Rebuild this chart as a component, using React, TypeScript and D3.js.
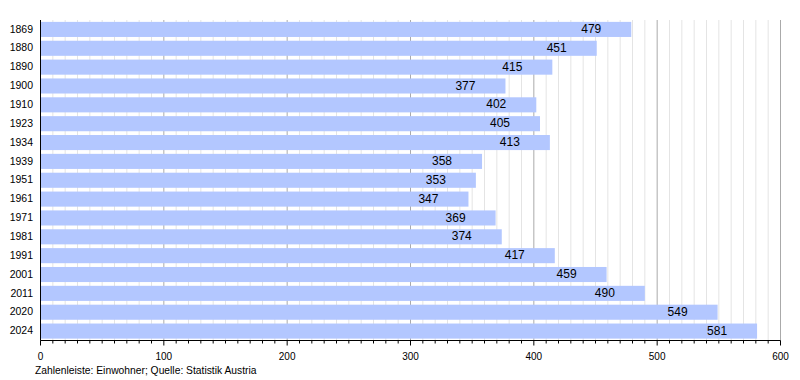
import React from "react";
import * as d3 from "d3";

const years = ["1869","1880","1890","1900","1910","1923","1934","1939","1951","1961","1971","1981","1991","2001","2011","2020","2024"];
const population = [479,451,415,377,402,405,413,358,353,347,369,374,417,459,490,549,581];
const xTicks = [0,100,200,300,400,500,600];
const caption = "Zahlenleiste: Einwohner; Quelle: Statistik Austria";

export default function App() {
  const W = 800, H = 380;
  const left = 40.5, right = 780.5, top = 20, bottom = 340.5;
  const x = d3.scaleLinear().domain([0, 600]).range([left, right]);
  const y = d3.scaleBand().domain(years).range([top, bottom]).paddingInner(0.2).paddingOuter(0.1);
  const minor = d3.range(0, 601, 10);
  const font = "'Liberation Sans', Arial, sans-serif";
  return (
    <svg width={W} height={H} style={{ position: "absolute", left: 0, top: 0, background: "#fff" }} fontFamily={font}>
      {minor.map(v => (
        <line key={"g" + v} x1={x(v)} x2={x(v)} y1={top} y2={bottom}
          stroke={v % 100 === 0 ? "#aaaaaa" : "#e4e4e4"} strokeWidth={1} />
      ))}
      {years.map((yr, i) => (
        <g key={yr}>
          <rect x={x(0)} y={y(yr)!} width={x(population[i]) - x(0)} height={y.bandwidth()} fill="#b3c7ff" />
          <text x={33} y={y(yr)! + y.bandwidth() / 2} dy="0.3em" textAnchor="end" fontSize={10.5} fill="#000">{yr}</text>
          <text x={x(population[i]) - 30} y={y(yr)! + y.bandwidth() / 2} dy="0.3em" textAnchor="end" fontSize={12} fill="#000">{population[i]}</text>
        </g>
      ))}
      <line x1={left} x2={left} y1={top} y2={bottom} stroke="#000" />
      <line x1={left} x2={right} y1={bottom} y2={bottom} stroke="#000" />
      {minor.map(v => (
        <line key={"t" + v} x1={x(v)} x2={x(v)} y1={bottom} y2={bottom + (v % 100 === 0 ? 5 : 3)} stroke="#000" />
      ))}
      {xTicks.map(v => (
        <text key={"l" + v} x={x(v)} y={359.5} textAnchor="middle" fontSize={10} fill="#000">{v}</text>
      ))}
      <text x={35} y={373.5} fontSize={10.3} fill="#000">{caption}</text>
    </svg>
  );
}
